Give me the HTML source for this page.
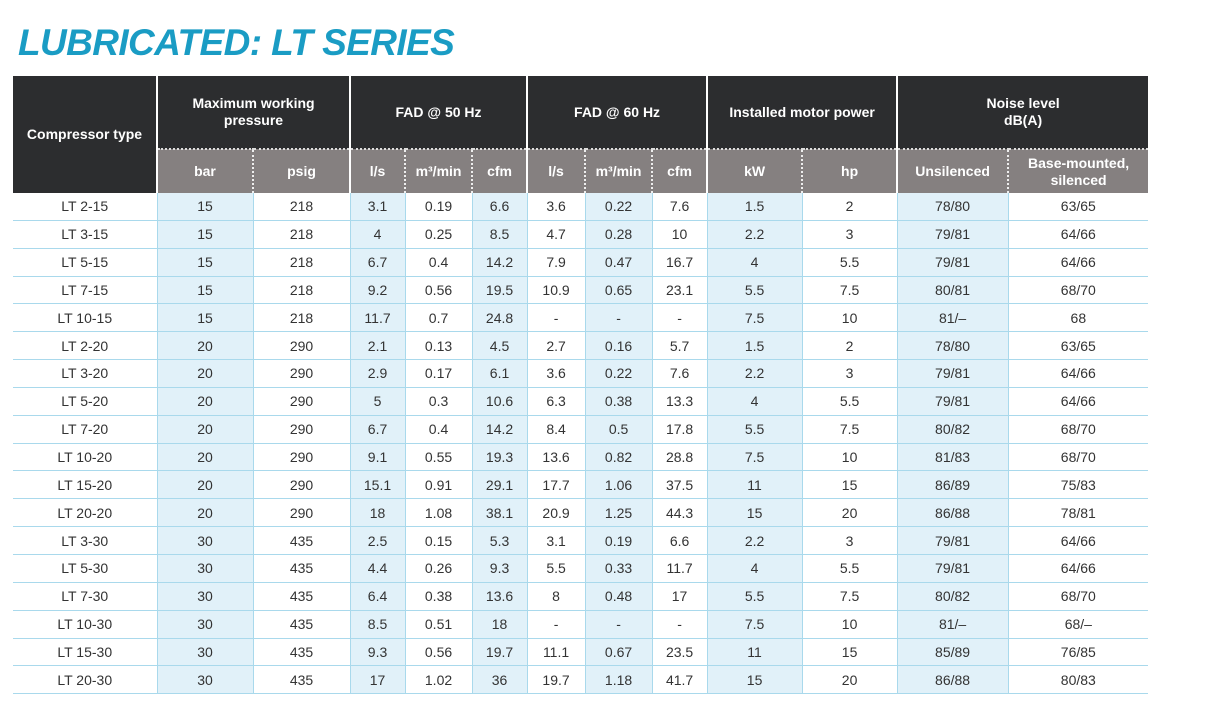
<!DOCTYPE html>
<html><head><meta charset="utf-8"><style>
body{margin:0;width:1208px;height:705px;background:#fff;position:relative;overflow:hidden;font-family:"Liberation Sans",sans-serif}
h1{position:absolute;left:18px;top:22px;margin:0;font-size:37px;font-style:italic;font-weight:bold;color:#1a9cc4;letter-spacing:-0.6px}
table{position:absolute;left:13px;top:76px;border-collapse:collapse;table-layout:fixed;width:1135px}
th{color:#fff;font-size:14px;font-weight:bold;text-align:center;padding:0;line-height:17px}
tr.h1 th{background:#2c2d2f;height:72px;border-left:2px solid #fff}
tr.h2 th{background:#858080;height:43px;border-top:2px dotted #ddd;border-left:2px dotted #eee}
tr.h2 th.g{border-left:2px solid #fff}
th.first{border-left:none!important}
td{height:26.85px;padding:0;text-align:center;font-size:14px;color:#333;border-bottom:1px solid #a9d9ec;border-left:1px solid #a9d9ec}
td.s{background:#e1f1f9}
td:first-child{border-left:none}
</style></head><body>
<h1>LUBRICATED: LT SERIES</h1>
<table>
<colgroup><col style="width:144px"><col style="width:96px"><col style="width:97px"><col style="width:55px"><col style="width:67px"><col style="width:55px"><col style="width:58px"><col style="width:67px"><col style="width:55px"><col style="width:95px"><col style="width:95px"><col style="width:111px"><col style="width:140px"></colgroup>
<thead>
<tr class="h1">
<th class="first" rowspan="2" style="background:#2c2d2f">Compressor type</th>
<th colspan="2">Maximum working<br>pressure</th>
<th colspan="3">FAD @ 50 Hz</th>
<th colspan="3">FAD @ 60 Hz</th>
<th colspan="2">Installed motor power</th>
<th colspan="2">Noise level<br>dB(A)</th>
</tr>
<tr class="h2">
<th class="g">bar</th><th>psig</th>
<th class="g">l/s</th><th>m³/min</th><th>cfm</th>
<th class="g">l/s</th><th>m³/min</th><th>cfm</th>
<th class="g">kW</th><th>hp</th>
<th class="g">Unsilenced</th><th>Base-mounted,<br>silenced</th>
</tr>
</thead>
<tbody id="tb"></tbody>
</table>
<script>
const rows=[
["LT 2-15","15","218","3.1","0.19","6.6","3.6","0.22","7.6","1.5","2","78/80","63/65"],
["LT 3-15","15","218","4","0.25","8.5","4.7","0.28","10","2.2","3","79/81","64/66"],
["LT 5-15","15","218","6.7","0.4","14.2","7.9","0.47","16.7","4","5.5","79/81","64/66"],
["LT 7-15","15","218","9.2","0.56","19.5","10.9","0.65","23.1","5.5","7.5","80/81","68/70"],
["LT 10-15","15","218","11.7","0.7","24.8","-","-","-","7.5","10","81/–","68"],
["LT 2-20","20","290","2.1","0.13","4.5","2.7","0.16","5.7","1.5","2","78/80","63/65"],
["LT 3-20","20","290","2.9","0.17","6.1","3.6","0.22","7.6","2.2","3","79/81","64/66"],
["LT 5-20","20","290","5","0.3","10.6","6.3","0.38","13.3","4","5.5","79/81","64/66"],
["LT 7-20","20","290","6.7","0.4","14.2","8.4","0.5","17.8","5.5","7.5","80/82","68/70"],
["LT 10-20","20","290","9.1","0.55","19.3","13.6","0.82","28.8","7.5","10","81/83","68/70"],
["LT 15-20","20","290","15.1","0.91","29.1","17.7","1.06","37.5","11","15","86/89","75/83"],
["LT 20-20","20","290","18","1.08","38.1","20.9","1.25","44.3","15","20","86/88","78/81"],
["LT 3-30","30","435","2.5","0.15","5.3","3.1","0.19","6.6","2.2","3","79/81","64/66"],
["LT 5-30","30","435","4.4","0.26","9.3","5.5","0.33","11.7","4","5.5","79/81","64/66"],
["LT 7-30","30","435","6.4","0.38","13.6","8","0.48","17","5.5","7.5","80/82","68/70"],
["LT 10-30","30","435","8.5","0.51","18","-","-","-","7.5","10","81/–","68/–"],
["LT 15-30","30","435","9.3","0.56","19.7","11.1","0.67","23.5","11","15","85/89","76/85"],
["LT 20-30","30","435","17","1.02","36","19.7","1.18","41.7","15","20","86/88","80/83"]
];
const shaded=[0,1,0,1,0,1,0,1,0,1,0,1,0];
const tb=document.getElementById('tb');
rows.forEach(r=>{
  const tr=document.createElement('tr');
  
  
  r.forEach((v,i)=>{
    const td=document.createElement('td');
    td.textContent=v;
    if(shaded[i])td.className='s';
    
    
    tr.appendChild(td);
  });
  tb.appendChild(tr);
});
</script>
</body></html>
